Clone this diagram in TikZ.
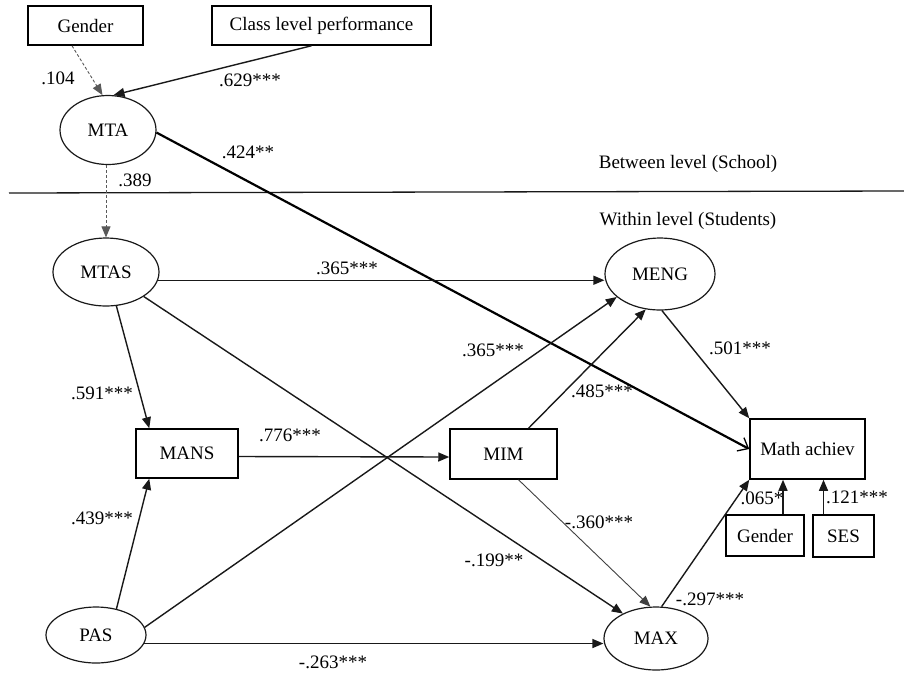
\documentclass[tikz,border=0pt]{standalone}
\usepackage{fontspec}
\setmainfont{Liberation Serif}
\usetikzlibrary{shapes.geometric,arrows.meta,calc}
\begin{document}
\begin{tikzpicture}[x=1pt,y=-1pt,
  every node/.style={font=\fontsize{19}{22}\selectfont, text=black},
  rbox/.style={draw=black, line width=1.5pt, rectangle, inner sep=0pt},
  ell/.style={draw=black!90, line width=1.2pt, ellipse, inner sep=0pt},
  ln/.style={draw=black!90, line width=1.4pt},
  thk/.style={draw=black, line width=2.2pt},
  thinln/.style={draw=black!75, line width=0.9pt},
  dsh/.style={draw=black!65, line width=0.9pt, dash pattern=on 3pt off 2pt},
  arr/.style={-{Triangle[length=11pt,width=9pt]}},
  lbl/.style={inner sep=0pt}]
\useasboundingbox (0,0) rectangle (904,673);
% nodes
\node[rbox, minimum width=115pt, minimum height=39pt] (g1) at (85.5,25.5) {Gender};
\node[rbox, minimum width=219pt, minimum height=39pt] (clp) at (321.5,25.5) {Class level performance};
\node[ell, minimum width=96pt, minimum height=69pt] (mta) at (108,130) {MTA};
\node[ell, minimum width=106pt, minimum height=68pt] (mtas) at (106,272) {MTAS};
\node[ell, minimum width=110pt, minimum height=72pt] (meng) at (660,274) {MENG};
\node[rbox, minimum width=102pt, minimum height=49pt] (mans) at (187,453.5) {MANS};
\node[rbox, minimum width=107pt, minimum height=50pt] (mim) at (503.5,454) {MIM};
\node[rbox, minimum width=115pt, minimum height=60pt] (ma) at (807.5,449) {Math achiev};
\node[rbox, minimum width=78pt, minimum height=41pt] (g2) at (765,535.5) {Gender};
\node[rbox, minimum width=61pt, minimum height=42pt] (ses) at (843.5,536) {SES};
\node[ell, minimum width=100pt, minimum height=56pt] (pas) at (96,635) {PAS};
\node[ell, minimum width=104pt, minimum height=63pt] (max) at (656,638.5) {MAX};
% level separator
\coordinate (sepL) at (9,193);
\coordinate (sepR) at (904,191);
\draw[line width=1.3pt, black!90] (sepL) -- (sepR);
\node[lbl] (between) at (688,164) {Between level (School)};
\node[lbl] (within) at (688,221) {Within level (Students)};
% connectors
\draw[dsh, arr] ([xshift=-13.5pt]g1.south) -- (mta.99);
\draw[ln, arr] ([xshift=-10pt]clp.south) -- (mta.81);
\draw[thk, -{Straight Barb[length=9pt,width=15pt,line width=1.3pt]}] (mta.-3) -- (ma.west);
\draw[dsh, arr] (mtas.north |- mta.south) -- (mtas.north);
\draw[ln, arr] (mtas.-9) -- (mtas.-9 -| meng.west);
\draw[ln, arr] (mtas.-33) -- (max.143);
\draw[ln, arr] (mtas.-73) -- ([xshift=14pt]mans.north west);
\draw[ln, arr] ([yshift=-3pt]mans.east) -- ([yshift=-3pt]mim.west);
\draw[ln, arr] (pas.52) -- ([xshift=14pt]mans.south west);
\draw[ln, arr] (pas.9) -- (meng.208);
\draw[ln, arr] (pas.-10) -- (pas.-10 -| max.west);
\draw[ln, arr] ([xshift=25pt]mim.north) -- (meng.248);
\draw[thinln, arr] ([xshift=15pt]mim.south) -- (max.100);
\draw[ln, arr] (meng.273) -- (ma.north west);
\draw[ln, arr] (max.80) -- (ma.south west);
\draw[ln, arr] ([xshift=18pt]g2.north) -- ([xshift=18pt]g2.north |- ma.south);
\draw[ln, arr] ([xshift=-20pt]ses.north) -- ([xshift=-20pt]ses.north |- ma.south);
% labels
\node[lbl] (l104) at (58,78) {.104};
\node[lbl] (l629) at (250,80) {.629***};
\node[lbl] (l424) at (248,152) {.424**};
\node[lbl] (l389) at (135,180) {.389};
\node[lbl] (l365a) at (347,268) {.365***};
\node[lbl] (l591) at (102,393) {.591***};
\node[lbl] (l776) at (290,435) {.776***};
\node[lbl] (l439) at (102,518) {.439***};
\node[lbl] (l263) at (333,662) {-.263***};
\node[lbl] (l365b) at (493,350) {.365***};
\node[lbl] (l485) at (602,391) {.485***};
\node[lbl] (l501) at (740,348) {.501***};
\node[lbl] (l360) at (599,522) {-.360***};
\node[lbl] (l199) at (494,560) {-.199**};
\node[lbl] (l297) at (710,599) {-.297***};
\node[lbl] (l065) at (762,498) {.065*};
\node[lbl] (l121) at (857,497) {.121***};
\end{tikzpicture}
\end{document}
